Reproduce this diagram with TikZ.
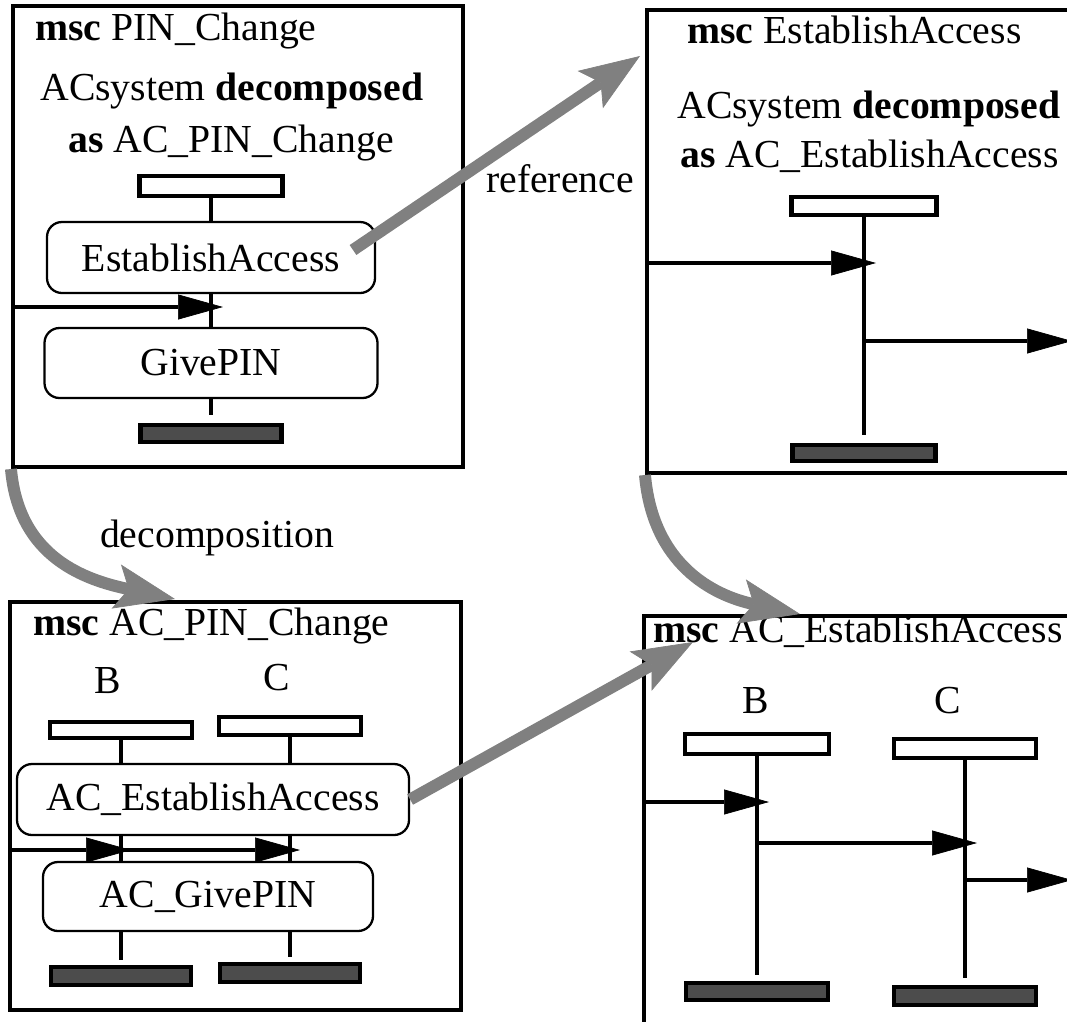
\documentclass[tikz,border=0pt]{standalone}
\usepackage{fontspec}
\setmainfont{Liberation Serif}
\usetikzlibrary{arrows.meta}

\tikzset{
  wh/.style 2 args={minimum width=#1*0.02cm, minimum height=#2*0.02cm},
  frame/.style={draw, line width=2.3pt, inner sep=0pt},
  inst/.style={draw, line width=2.3pt, fill=white, inner sep=0pt},
  instend/.style={draw, line width=2.3pt, fill=black!70, inner sep=0pt},
  refbox/.style={draw, line width=1.3pt, rounded corners=0.3cm, inner sep=0pt},
  life/.style={line width=2.3pt},
  msg/.style={line width=2.3pt, -{Triangle[length=0.9cm, width=0.5cm, line width=0.4pt]}},
  big/.style={gray, line width=6.8pt, -{Stealth[length=1.2cm, width=0.9cm, inset=0.25cm, line width=0.4pt]}},
  lbl/.style={inner sep=0pt},
}

\begin{document}
\begin{tikzpicture}[x=0.02cm, y=-0.02cm, font=\fontsize{22.6}{26}\selectfont]
  \useasboundingbox (0,0) rectangle (1067,1021);
  \clip (0,0) rectangle (1067,1021);

  % msc PIN_Change
  \node[frame, wh={450}{461}] (pinchg) at (238,236.5) {};
  \node[lbl, anchor=base west] (t1) at (35,40) {\textbf{msc} PIN\_Change};
  \node[lbl, anchor=base west] (t1a) at (40,100) {ACsystem \textbf{decomposed}};
  \node[lbl, anchor=base west] (t1b) at (68,152) {\textbf{as} AC\_PIN\_Change};
  \node[inst, wh={143}{20}] (hA) at (211,186) {};
  \node[refbox, wh={328}{71}] (ea) at (211,257.5) {EstablishAccess};
  \node[refbox, wh={333}{70}] (gp) at (211,363) {GivePIN};
  \node[instend, wh={141}{17}] (eA) at (211,433.5) {};
  \coordinate (sA) at (211,415);
  \draw[life] (hA) -- (ea);
  \draw[life] (ea) -- (gp);
  \draw[life] (gp) -- (sA);
  \coordinate (inA) at (13,307);
  \coordinate (tA) at (223,307);
  \draw[msg] (inA) -- (tA);

  % msc EstablishAccess
  \node[frame, wh={438}{463}] (estacc) at (866,241.5) {};
  \node[lbl, anchor=base west] (t2) at (687,43) {\textbf{msc} EstablishAccess};
  \node[lbl, anchor=base west] (t2a) at (677,118) {ACsystem \textbf{decomposed}};
  \node[lbl, anchor=base west] (t2b) at (680,167) {\textbf{as} AC\_EstablishAccess};
  \node[inst, wh={145}{18}] (hB) at (864,206) {};
  \node[instend, wh={143}{16}] (eB) at (864,453) {};
  \coordinate (sB) at (864,435);
  \draw[life] (hB) -- (sB);
  \coordinate (inB) at (647,263);
  \coordinate (tB) at (876,263);
  \draw[msg] (inB) -- (tB);
  \coordinate (oB) at (864,341);
  \coordinate (xB) at (1072,341);
  \draw[msg] (oB) -- (xB);

  % msc AC_PIN_Change
  \node[frame, wh={451}{408}] (acpin) at (235.5,806) {};
  \node[lbl, anchor=base west] (t3) at (33,635) {\textbf{msc} AC\_PIN\_Change};
  \node[lbl, anchor=base] (lB) at (108,693) {B};
  \node[lbl, anchor=base] (lC) at (277,690) {C};
  \node[inst, wh={142}{16}] (hC) at (121,730) {};
  \node[inst, wh={142}{18}] (hD) at (290,726) {};
  \node[refbox, wh={392}{71}] (acea) at (213,799.5) {AC\_EstablishAccess};
  \node[refbox, wh={330}{69}] (acgp) at (208,896.5) {AC\_GivePIN};
  \node[instend, wh={140}{18}] (eC) at (121,976) {};
  \node[instend, wh={140}{18}] (eD) at (290,973) {};
  \coordinate (sC) at (121,960);
  \coordinate (sD) at (290,957);
  \draw[life] (hC) -- (hC |- acea.north);
  \draw[life] (hD) -- (hD |- acea.north);
  \draw[life] (hC |- acea.south) -- (hC |- acgp.north);
  \draw[life] (hD |- acea.south) -- (hD |- acgp.north);
  \draw[life] (hC |- acgp.south) -- (sC);
  \draw[life] (hD |- acgp.south) -- (sD);
  \coordinate (inC) at (10,850);
  \coordinate (tC) at (131,850);
  \coordinate (oC) at (121,850);
  \coordinate (tD) at (300,850);
  \draw[msg] (inC) -- (tC);
  \draw[msg] (oC) -- (tD);

  % msc AC_EstablishAccess
  \node[frame, wh={441}{429}] (acest) at (864.5,830.5) {};
  \node[lbl, anchor=base west] (t4) at (653,642) {\textbf{msc} AC\_EstablishAccess};
  \node[lbl, anchor=base] (lE) at (756,713) {B};
  \node[lbl, anchor=base] (lF) at (948,713) {C};
  \node[inst, wh={144}{20}] (hE) at (757,744) {};
  \node[inst, wh={142}{19}] (hF) at (965,748.5) {};
  \node[instend, wh={142}{17}] (eE) at (757,991.5) {};
  \node[instend, wh={142}{18}] (eF) at (965,996) {};
  \coordinate (sE) at (757,975);
  \coordinate (sF) at (965,978);
  \draw[life] (hE) -- (sE);
  \draw[life] (hF) -- (sF);
  \coordinate (inE) at (644,802);
  \coordinate (tE) at (769,802);
  \draw[msg] (inE) -- (tE);
  \coordinate (oE) at (757,843);
  \coordinate (tF) at (977,843);
  \draw[msg] (oE) -- (tF);
  \coordinate (oF) at (965,880);
  \coordinate (xF) at (1072,880);
  \draw[msg] (oF) -- (xF);

  % grey arrows between the charts
  \node[lbl, anchor=base] (lref) at (560,192) {reference};
  \node[lbl, anchor=base] (ldec) at (217,547) {decomposition};
  \coordinate (rS) at (353,250);
  \coordinate (rT) at (640,56);
  \draw[big] (rS) -- (rT);
  \coordinate (rT2) at (693,642);
  \draw[big] (acea.east) -- (rT2);
  \coordinate (dT) at (175,599);
  \draw[big] (pinchg.south west) to[out=-85, in=168, looseness=1.1] (dT);
  \coordinate (dT2) at (800,614);
  \draw[big] (estacc.south west) to[out=-85, in=168, looseness=1.1] (dT2);
\end{tikzpicture}
\end{document}
